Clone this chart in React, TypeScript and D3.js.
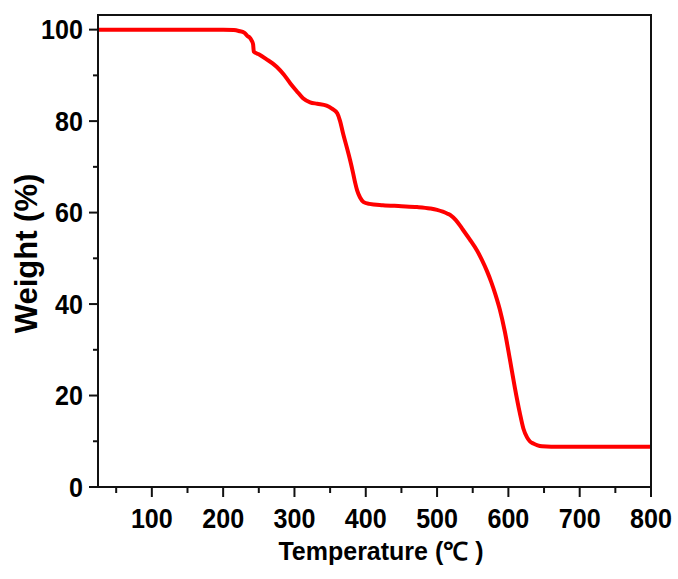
import React from "react";
import * as d3 from "d3";

const temps = [24.5, 100, 200, 215, 222, 230, 234, 237, 240, 242, 243, 250, 260, 275, 285, 294, 303, 312, 322, 332, 345, 352, 360, 364, 368, 373, 378, 382, 385, 388, 392, 397, 405, 424, 450, 472, 490, 500, 508, 514, 520, 526, 532, 536, 546, 556, 563, 570, 576, 582, 588, 595, 602, 609, 616, 621, 626, 630, 635, 641, 647, 660, 700, 800];
const weights = [100, 100, 100, 99.9, 99.7, 99.3, 98.6, 98.3, 97.6, 96.8, 95.2, 94.6, 93.6, 91.9, 90.2, 88.3, 86.6, 85.0, 84.1, 83.8, 83.4, 82.8, 81.7, 80.0, 77.4, 74.5, 71.5, 68.8, 66.6, 64.8, 63.3, 62.3, 61.9, 61.6, 61.4, 61.2, 60.9, 60.6, 60.2, 59.8, 59.3, 58.4, 57.2, 56.3, 54.1, 51.7, 49.6, 47.2, 44.8, 42.0, 38.8, 34.0, 28.0, 21.8, 16.2, 12.8, 10.9, 10.0, 9.5, 9.1, 8.9, 8.8, 8.8, 8.8];
const xMajor = [100, 200, 300, 400, 500, 600, 700, 800];
const xMinor = [50, 150, 250, 350, 450, 550, 650, 750];
const yMajor = [0, 20, 40, 60, 80, 100];
const yMinor = [10, 30, 50, 70, 90];

const L = 98, R = 651, T = 15, B = 487;
const FONT = "'Liberation Sans', Arial, sans-serif";

export default function App() {
  const x = d3.scaleLinear().domain([24.5, 800]).range([L, R]);
  const y = d3.scaleLinear().domain([0, 103.2]).range([B, T]);
  const data = temps.map((t, i) => [t, weights[i]] as [number, number]);
  const line = d3
    .line<[number, number]>()
    .x((d) => x(d[0]))
    .y((d) => y(d[1]))
    .curve(d3.curveMonotoneX);

  return (
    <svg
      width={678}
      height={579}
      style={{ position: "absolute", left: 0, top: 0, background: "#fff" }}
    >
      <rect x={0} y={0} width={678} height={579} fill="#fff" />
      <path d={line(data) || ""} fill="none" stroke="#ff0000" strokeWidth={4} strokeLinejoin="round" />
      <rect x={L} y={T} width={R - L} height={B - T} fill="none" stroke="#111" strokeWidth={2} />
      {xMajor.map((v) => (
        <g key={"xM" + v}>
          <line x1={x(v)} x2={x(v)} y1={B} y2={B + 10} stroke="#111" strokeWidth={2} />
          <g transform={`translate(${x(v)},${528}) scale(0.93,1)`}>
            <text textAnchor="middle" fontFamily={FONT} fontWeight="bold" fontSize={27} fill="#000">
              {v}
            </text>
          </g>
        </g>
      ))}
      {xMinor.map((v) => (
        <line key={"xm" + v} x1={x(v)} x2={x(v)} y1={B} y2={B + 6} stroke="#111" strokeWidth={2} />
      ))}
      {yMajor.map((v) => (
        <g key={"yM" + v}>
          <line x1={L - 9} x2={L} y1={y(v)} y2={y(v)} stroke="#111" strokeWidth={2} />
          <g transform={`translate(${83},${y(v) + 9.5}) scale(0.93,1)`}>
            <text textAnchor="end" fontFamily={FONT} fontWeight="bold" fontSize={27} fill="#000">
              {v}
            </text>
          </g>
        </g>
      ))}
      {yMinor.map((v) => (
        <line key={"ym" + v} x1={L - 5} x2={L} y1={y(v)} y2={y(v)} stroke="#111" strokeWidth={2} />
      ))}
      <text x={381} y={560} textAnchor="middle" fontFamily={FONT} fontWeight="bold" fontSize={25} fill="#000">
        Temperature (℃ )
      </text>
      <text
        transform="translate(37,253.5) rotate(-90)"
        textAnchor="middle"
        fontFamily={FONT}
        fontWeight="bold"
        fontSize={31}
        fill="#000"
      >
        Weight (%)
      </text>
    </svg>
  );
}
